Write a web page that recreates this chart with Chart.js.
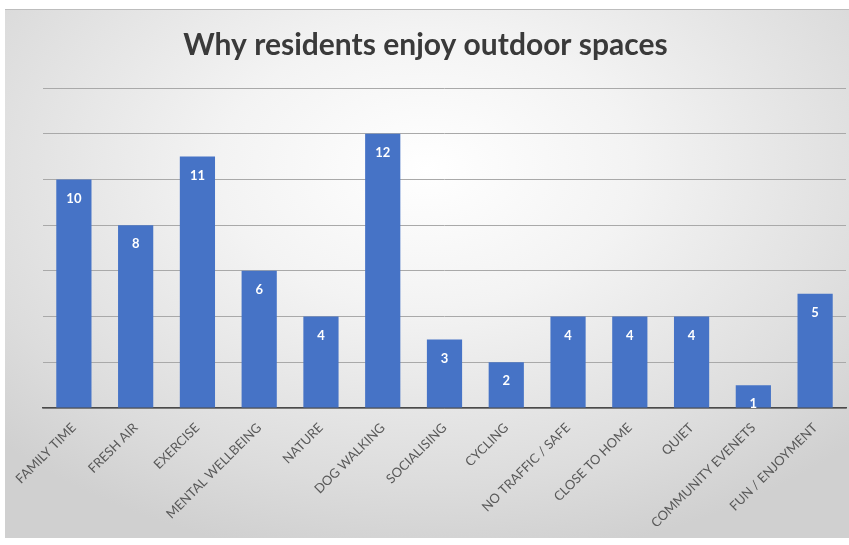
<!DOCTYPE html>
<html>
<head>
<meta charset="utf-8">
<title>Why residents enjoy outdoor spaces</title>
<script src="https://cdn.jsdelivr.net/npm/chart.js@4.4.1/dist/chart.umd.min.js"></script>
<style>
  html, body { margin: 0; padding: 0; background: #fff; }
  #frame {
    position: absolute; left: 5px; top: 9px; width: 844px; height: 528px;
    background: radial-gradient(ellipse 70% 75% at 50% 30%, #ffffff 0%, #f3f3f3 35%, #dcdcdc 80%, #d0d0d0 100%);
    border-top: 1px solid #bdbdbd;
  }
  #frame canvas { display: block; }
</style>
</head>
<body>
<div id="frame"><canvas id="reasonsChart" width="844" height="528"></canvas></div>
<script>
const reasons = ['FAMILY TIME', 'FRESH AIR', 'EXERCISE', 'MENTAL WELLBEING', 'NATURE', 'DOG WALKING',
  'SOCIALISING', 'CYCLING', 'NO TRAFFIC / SAFE', 'CLOSE TO HOME', 'QUIET', 'COMMUNITY EVENETS', 'FUN / ENJOYMENT'];
const counts = [10, 8, 11, 6, 4, 12, 3, 2, 4, 4, 4, 1, 5];
const yMax = 14;
const yStep = 2;

// white count printed just below the top of each bar
const barValues = {
  id: 'barValues',
  afterDatasetsDraw(chart) {
    const ctx = chart.ctx;
    const meta = chart.getDatasetMeta(0);
    ctx.save();
    ctx.font = 'bold 13px Lato, sans-serif';
    ctx.fillStyle = '#ffffff';
    ctx.textAlign = 'center';
    ctx.textBaseline = 'middle';
    meta.data.forEach((bar, i) => {
      ctx.fillText(counts[i], bar.x, bar.y + 19);
    });
    ctx.restore();
  }
};

new Chart(document.getElementById('reasonsChart'), {
  type: 'bar',
  data: {
    labels: reasons,
    datasets: [{
      data: counts,
      backgroundColor: '#4673c6',
      barPercentage: 0.57,
      categoryPercentage: 1
    }]
  },
  options: {
    responsive: false,
    animation: false,
    layout: { padding: { left: 0, right: 3, top: 0, bottom: 0 } },
    plugins: {
      legend: { display: false },
      tooltip: { enabled: false },
      title: {
        display: true,
        text: 'Why residents enjoy outdoor spaces',
        color: '#3a3a3a',
        font: { family: 'Lato', size: 30, weight: 'bold' },
        padding: { top: 17, bottom: 25 }
      }
    },
    scales: {
      x: {
        grid: { display: false },
        border: { color: '#4a4a4a', width: 1.5 },
        ticks: {
          color: '#595959',
          font: { family: 'Lato', size: 13 },
          minRotation: 45,
          maxRotation: 45,
          autoSkip: false,
          padding: 4
        },
        afterFit(scale) { scale.height = 130; }
      },
      y: {
        min: 0,
        max: yMax,
        ticks: { display: false, stepSize: yStep },
        grid: { color: '#a9a9a9', lineWidth: 1, drawTicks: false },
        border: { display: false },
        // empty left gutter before the first bar
        afterFit(scale) { scale.width = 38; }
      }
    }
  },
  plugins: [barValues]
});
</script>
</body>
</html>
